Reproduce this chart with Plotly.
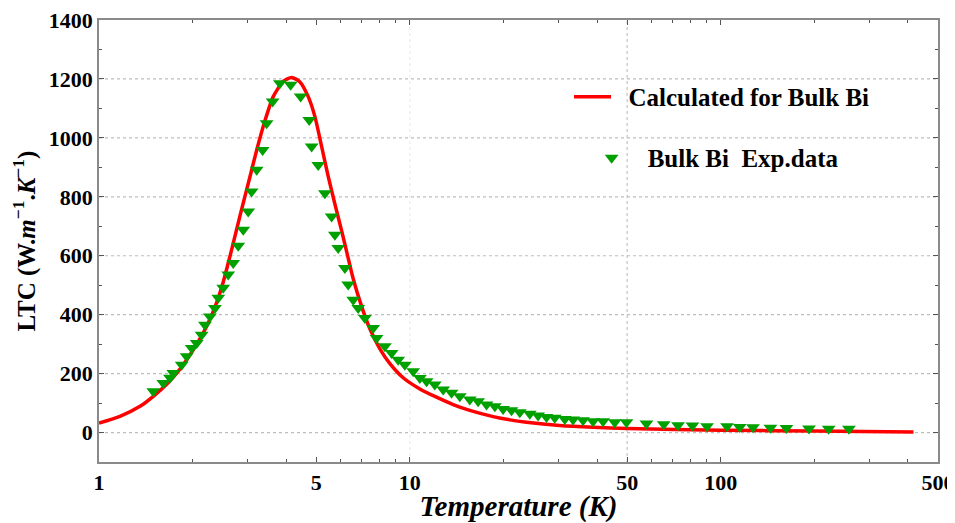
import plotly.graph_objects as go

exp_T = [1.495, 1.610, 1.692, 1.734, 1.845, 1.914, 1.987, 2.062, 2.139, 2.192,
         2.275, 2.360, 2.419, 2.510, 2.604, 2.703, 2.805, 2.911, 3.020, 3.097,
         3.215, 3.361, 3.461, 3.618, 3.819, 4.135, 4.453, 4.746, 4.831, 5.073,
         5.330, 5.601, 5.740, 5.882, 6.180, 6.333, 6.573, 6.821, 7.167, 7.621,
         7.815, 8.312, 8.735, 9.170, 9.637, 10.25, 10.77, 11.32, 12.03, 12.80,
         13.62, 14.48, 15.59, 16.58, 17.65, 18.77, 19.95, 21.23, 22.58, 24.32,
         25.86, 27.51, 29.25, 31.51, 33.50, 36.07, 38.85, 41.84, 45.62, 49.76,
         57.69, 65.58, 72.90, 81.10, 90.37, 104.8, 115.1, 127.0, 144.5, 162.7,
         192.3, 222.5, 258.5]
exp_ltc = [140, 168, 186, 202, 230, 259, 287, 304, 332, 366,
           394, 423, 457, 491, 536, 575, 634, 688, 750, 818,
           892, 959, 1050, 1123, 1185, 1180, 1140, 1061, 971, 908,
           812, 733, 671, 626, 558, 502, 451, 423, 389, 355,
           321, 293, 270, 247, 230, 208, 185, 174, 163, 146,
           135, 123, 112, 106, 95, 89, 80, 76, 69, 64,
           58, 53, 50, 46, 44, 42, 38, 38, 35, 35,
           31, 28, 25, 24, 21, 21, 19, 18, 16, 15,
           14, 13, 13]

# calculated curve
calc_T = [1.0, 1.168, 1.355, 1.495, 1.651, 1.822, 2.010, 2.220, 2.390, 2.510,
          2.638, 2.841, 3.059, 3.215, 3.418, 3.635, 3.914, 4.166, 4.430, 4.710,
          4.950, 5.201, 5.462, 5.740, 6.031, 6.258, 6.573, 6.995, 7.436, 8.008,
          8.626, 9.516, 10.77, 12.18, 13.78, 15.59, 18.53, 20.97, 23.72, 30.36,
          38.85, 50.0, 100.0, 200.0, 417.0]
calc_ltc = [32, 55, 89, 123, 164, 215, 281, 361, 441, 511,
            598, 735, 868, 958, 1058, 1140, 1192, 1205, 1190, 1140,
            1072, 971, 869, 775, 685, 615, 522, 428, 352, 284,
            234, 186, 148, 120, 95, 75, 54, 43, 35, 24,
            18, 14, 8, 5, 2]

x_ticks = [1, 5, 10, 50, 100, 500]
x_minor = [2, 3, 4, 6, 7, 8, 9, 20, 30, 40, 60, 70, 80, 90, 200, 300, 400]
y_ticks = [0, 200, 400, 600, 800, 1000, 1200, 1400]

FONT = "Liberation Serif"

fig = go.Figure()

fig.add_trace(go.Scatter(
    x=calc_T, y=calc_ltc, mode="lines",
    name="&nbsp;&nbsp;<b>Calculated for Bulk Bi</b>",
    line=dict(color="#ff0000", width=3.5, shape="spline", smoothing=0.6),
    legend="legend",
))
fig.add_trace(go.Scatter(
    x=exp_T, y=exp_ltc, mode="markers",
    name="&nbsp;&nbsp;<b>Bulk Bi  Exp.data</b>",
    marker=dict(symbol="triangle-down", size=12, color="#00a000"),
    legend="legend2",
))

# dotted horizontal grid
for v in y_ticks[:-1]:
    fig.add_shape(type="line", xref="paper", x0=0, x1=1, yref="y", y0=v, y1=v,
                  line=dict(color="#bdbdbd", width=1.2, dash="dot"), layer="below")
# the two vertical dotted lines
fig.add_shape(type="line", xref="x", x0=10, x1=10, yref="paper", y0=0, y1=1,
              line=dict(color="#ececec", width=1.2, dash="dot"), layer="below")
fig.add_shape(type="line", xref="x", x0=50, x1=50, yref="paper", y0=0, y1=1,
              line=dict(color="#c4c4c4", width=1.2, dash="dot"), layer="below")

axis_common = dict(
    showline=True, linecolor="#8a8a8a", linewidth=1.5, mirror="ticks",
    ticks="inside", ticklen=5, tickcolor="#555", showgrid=False, zeroline=False,
    automargin=False, ticklabeloverflow="allow",
    tickfont=dict(family=FONT, size=22, color="black"),
)

fig.update_xaxes(
    type="log", range=[0, 2.69897], tickvals=x_ticks,
    ticktext=[f"<b>{t}</b>" for t in x_ticks],
    minor=dict(tickvals=x_minor, ticks="inside", ticklen=3, tickcolor="#555"),
    title=dict(text="<b><i>Temperature (K)</i></b>",
               font=dict(family=FONT, size=29, color="black"), standoff=4),
    **axis_common,
)
fig.update_yaxes(
    range=[-100, 1400], tickvals=y_ticks,
    ticktext=[f"<b>{t}</b>" for t in y_ticks],
    minor=dict(dtick=100, ticks="inside", ticklen=3, tickcolor="#555"),
    title=dict(text="<b>LTC (W.<i>m</i><sup>−1</sup>.<i>K</i><sup>−1</sup>)</b>",
               font=dict(family=FONT, size=25, color="black"), standoff=10),
    **axis_common,
)

# the page body adds an 8px offset, so the figure is laid out 8px smaller
legend_font = dict(family=FONT, size=25, color="black")
fig.update_layout(
    width=947, height=515,
    margin=dict(l=91, r=17, t=12, b=61),
    plot_bgcolor="white", paper_bgcolor="white",
    showlegend=True,
    legend=dict(x=0.5602, y=0.8258, xanchor="left", yanchor="middle",
                itemwidth=37, font=legend_font, bgcolor="rgba(0,0,0,0)"),
    legend2=dict(x=0.583, y=0.6878, xanchor="left", yanchor="middle",
                 itemwidth=37, font=legend_font, bgcolor="rgba(0,0,0,0)"),
)

fig.write_html("out.html")
